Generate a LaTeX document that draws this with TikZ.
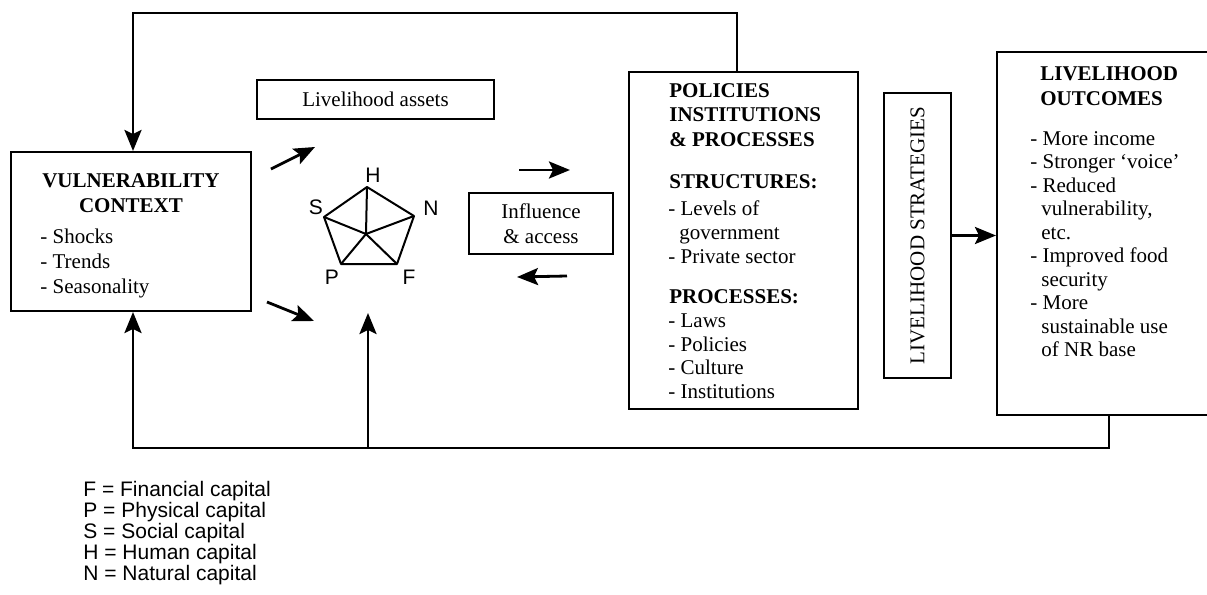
\documentclass[tikz,border=0pt]{standalone}
\usepackage{fontspec}
\setmainfont{Liberation Serif}
\newfontfamily\arial{Liberation Sans}
\usetikzlibrary{arrows.meta}

\begin{document}
\begin{tikzpicture}[x=0.5pt, y=-0.5pt]
% Configuration
\tikzset{box/.style={draw, line width=1pt, inner sep=0pt}}
\tikzset{txt/.style={font=\fontsize{10.5}{12}\selectfont, align=left, anchor=base west, inner sep=0pt}}
\tikzset{head/.style={txt, font=\bfseries\fontsize{10.5}{12.25}\selectfont}}
\tikzset{flow/.style={line width=1.4pt, -{Stealth[length=10.5pt, width=8.5pt, inset=2pt]}}}
\tikzset{letter/.style={font=\arial\fontsize{10.5}{11}\selectfont, inner sep=0pt}}
\useasboundingbox (0,0) rectangle (1207,595);

% VULNERABILITY CONTEXT
\node[box, minimum width=120pt, minimum height=79.5pt] (VC) at (131,231.5) {};
\node[head, align=center, anchor=base, font=\bfseries\fontsize{10.5}{12.5}\selectfont] (VChead) at (131,212) {VULNERABILITY\\CONTEXT};
\node[txt, font=\fontsize{10.5}{12.5}\selectfont] (VCitems) at (40,293) {- Shocks\\- Trends\\- Seasonality};

% LIVELIHOOD ASSETS
\node[box, minimum width=118.5pt, minimum height=19.5pt, font=\fontsize{10.5}{12}\selectfont] (LA) at (375.5,99.5) {Livelihood assets};
\coordinate (H) at (367,187);
\coordinate (N) at (414,216);
\coordinate (F) at (397,264);
\coordinate (P) at (341,264);
\coordinate (S) at (324,217);
\coordinate (X) at (366,234);
\draw[line width=1pt, line join=round] (H) -- (N) -- (F) -- (P) -- (S) -- cycle;
\foreach \v in {H,N,F,P,S}
  \draw[line width=1pt] (X) -- (\v);
\node[letter] (lblH) at (373,175) {H};
\node[letter] (lblS) at (316,207) {S};
\node[letter] (lblN) at (431,208) {N};
\node[letter] (lblP) at (332,277) {P};
\node[letter] (lblF) at (409,277) {F};

% INFLUENCE & ACCESS
\node[box, minimum width=72pt, minimum height=30.5pt, align=center, font=\fontsize{10.5}{12.5}\selectfont] (IA) at (541,223.5) {Influence\\\& access};

% POLICIES INSTITUTIONS & PROCESSES
\node[box, minimum width=114.5pt, minimum height=168.5pt] (PIP) at (743.5,240.5) {};
\node[head] (PIPhead) at (669,146) {POLICIES\\INSTITUTIONS\\\& PROCESSES};
\node[head] (STRhead) at (669,188) {STRUCTURES:};
\node[txt] (STRitems) at (668,263) {- Levels of\\\hspace{5.5pt}government\\- Private sector};
\node[head] (PROhead) at (669,303) {PROCESSES:};
\node[txt, font=\fontsize{10.5}{11.7}\selectfont] (PROitems) at (668,398) {- Laws\\- Policies\\- Culture\\- Institutions};

% LIVELIHOOD STRATEGIES
\node[box, rotate=90, minimum width=142.5pt, minimum height=33.5pt, font=\fontsize{10.5}{12}\selectfont] (LS) at (917.5,235.5) {LIVELIHOOD STRATEGIES};

% LIVELIHOOD OUTCOMES
\node[box, minimum width=107.5pt, minimum height=181.5pt] (LO) at (1104.5,233.5) {};
\node[head] (LOhead) at (1040,105) {LIVELIHOOD\\OUTCOMES};
\node[txt, font=\fontsize{10.5}{11.75}\selectfont] (LOitems) at (1030,356.5) {- More income\\- Stronger `voice'\\- Reduced\\\hspace{5.5pt}vulnerability,\\\hspace{5.5pt}etc.\\- Improved food\\\hspace{5.5pt}security\\- More\\\hspace{5.5pt}sustainable use\\\hspace{5.5pt}of NR base};

% Key
\node[txt, font=\arial\fontsize{10.5}{10.5}\selectfont] (key) at (83,580) {F = Financial capital\\P = Physical capital\\S = Social capital\\H = Human capital\\N = Natural capital};

% Connections
\coordinate (topL) at (133,13);
\coordinate (botL) at (133,448);
\coordinate (upfoot) at (368,448);
\coordinate (uptip) at (368,313);
\coordinate (d1s) at (271,169);
\coordinate (d1e) at (315,147);
\coordinate (d2s) at (267,302);
\coordinate (d2e) at (314,321);
\coordinate (r1s) at (519,170);
\coordinate (r1e) at (570,170);
\coordinate (r2s) at (567,276);
\coordinate (r2e) at (517,277);
\draw[flow] ([xshift=-3.25pt]PIP.north) |- (topL) -- (topL |- VC.north);
\draw[flow] ([xshift=2.25pt]LO.south) |- (botL) -- (botL |- VC.south);
\draw[flow] (upfoot) -- (uptip);
\draw[flow] (d1s) -- (d1e);
\draw[flow] (d2s) -- (d2e);
\draw[flow] (r1s) -- (r1e);
\draw[flow] (r2s) -- (r2e);
\draw[flow] (LS.south) -- (LS.south -| LO.west);
\end{tikzpicture}
\end{document}
